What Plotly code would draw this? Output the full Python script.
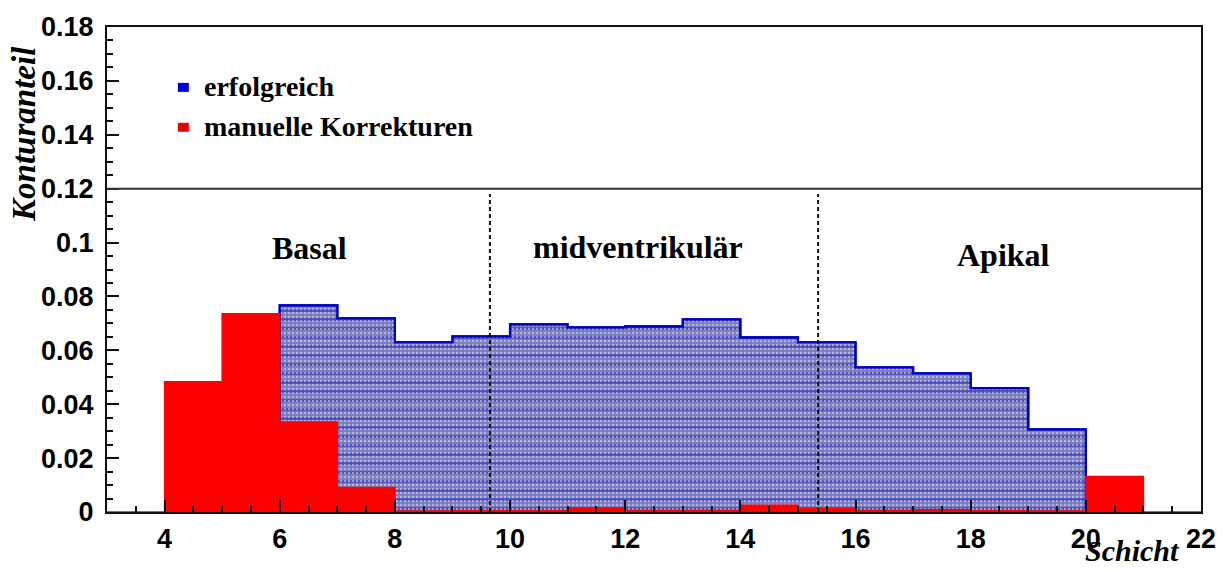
import plotly.graph_objects as go

# ---------------- data ----------------
blue_edges = [6, 7, 8, 9, 10, 11, 12, 13, 14, 15, 16, 17, 18, 19, 20]
blue_values = [0.0767, 0.0719, 0.0630, 0.0652, 0.0696, 0.0685, 0.0689,
               0.0715, 0.0648, 0.0630, 0.0537, 0.0515, 0.0460, 0.0307]

red_edges = [3, 4, 5, 6, 7, 8, 9, 10, 11, 12, 13, 14, 15, 16, 17, 18, 19, 20, 21, 22]
red_values = [0.0, 0.0483, 0.0736, 0.0334, 0.0091, 0.0004, 0.0005, 0.0005,
              0.0015, 0.0006, 0.0006, 0.0025, 0.0013, 0.0006, 0.0008, 0.0005,
              0.0004, 0.0132, 0.0]

region_bounds = [9.65, 15.35]
region_labels = ["Basal", "midventrikulär", "Apikal"]
region_label_x = [6.52, 12.22, 18.57]
region_label_y = [0.098, 0.0985, 0.0955]

legend_labels = ["erfolgreich", "manuelle Korrekturen"]
legend_colors = ["#0000e0", "#ee0000"]

y_tickvals = [0, 0.02, 0.04, 0.06, 0.08, 0.1, 0.12, 0.14, 0.16, 0.18]
y_ticktext = ["0", "0.02", "0.04", "0.06", "0.08", "0.1", "0.12", "0.14", "0.16", "0.18"]
x_tickvals = [4, 6, 8, 10, 12, 14, 16, 18, 20, 22]


def step_path(edges, values):
    xs = [edges[0]] + list(edges[:-1]) + [edges[-1], edges[-1]]
    ys = [0] + list(values) + [values[-1], 0]
    return xs, ys


SERIF = "Liberation Serif, Times New Roman, serif"
SANS = "Liberation Sans, Arial, sans-serif"

fig = go.Figure()

bx, by = step_path(blue_edges, blue_values)
fig.add_trace(go.Scatter(
    x=bx, y=by, mode="lines", line_shape="hv",
    line=dict(color="#0000c0", width=2.2),
    fill="tozeroy", fillcolor="#7a7cbe",
    fillpattern=dict(shape="-", fgcolor="#1818b0", bgcolor="#7a7cbe",
                     size=9, solidity=0.3),
    hoverinfo="skip", showlegend=False,
))
fig.add_trace(go.Scatter(
    x=bx, y=by, mode="lines", line_shape="hv",
    line=dict(color="#0000c0", width=2.2),
    fill="tozeroy", fillcolor="rgba(0,0,0,0)",
    fillpattern=dict(shape=".", fgcolor="rgba(255,255,255,0.85)",
                     bgcolor="rgba(0,0,0,0)", size=4, solidity=0.3),
    hoverinfo="skip", showlegend=False,
))

rx, ry = step_path(red_edges, red_values)
fig.add_trace(go.Scatter(
    x=rx, y=ry, mode="lines", line_shape="hv",
    line=dict(color="#ff0000", width=1.5),
    fill="tozeroy", fillcolor="#ff0000",
    hoverinfo="skip", showlegend=False,
))

# horizontal separator at 0.12 (legend box edge)
fig.add_shape(type="line", xref="x", yref="y", x0=3, x1=22, y0=0.12, y1=0.12,
              line=dict(color="#333333", width=2))

# region boundaries
for xb in region_bounds:
    fig.add_shape(type="line", xref="x", yref="y", x0=xb, x1=xb, y0=0, y1=0.118,
                  line=dict(color="#111111", width=2, dash="4px,3px"))

for lbl, lx, ly in zip(region_labels, region_label_x, region_label_y):
    fig.add_annotation(x=lx, y=ly, xref="x", yref="y", text=lbl, showarrow=False,
                       font=dict(family=SERIF, size=32, color="black", weight="bold"))

# legend
legend_y_px = [86, 126]
for i, (lbl, col) in enumerate(zip(legend_labels, legend_colors)):
    ypx = legend_y_px[i]
    yp = (512 - ypx) / 486
    fig.add_shape(type="rect", xref="paper", yref="paper",
                  x0=(178 - 107) / 1096, x1=(189 - 107) / 1096,
                  y0=yp - 5 / 486, y1=yp + 4 / 486,
                  fillcolor=col, line=dict(width=0))
    fig.add_annotation(x=(202 - 107) / 1096, y=yp, xref="paper", yref="paper",
                       text=lbl, showarrow=False, xanchor="left", yanchor="middle",
                       font=dict(family=SERIF, size=28, color="black", weight="bold"))

# axis titles
fig.add_annotation(x=(24 - 107) / 1096, y=(512 - 133) / 486, xref="paper", yref="paper",
                   text="Konturanteil", textangle=-90, showarrow=False,
                   xanchor="center", yanchor="middle",
                   font=dict(family=SERIF, size=33, color="black", weight="bold",
                             style="italic"))
fig.add_annotation(x=(1134 - 107) / 1096, y=(512 - 551) / 486, xref="paper", yref="paper",
                   text="Schicht", showarrow=False, xanchor="center", yanchor="middle",
                   font=dict(family=SERIF, size=30, color="black", weight="bold",
                             style="italic"))

fig.update_layout(
    width=1228, height=572,
    margin=dict(l=107, r=25, t=26, b=60),
    paper_bgcolor="white", plot_bgcolor="white",
    showlegend=False,
)
fig.update_xaxes(
    range=[3, 22], showgrid=False, zeroline=False,
    showline=True, linecolor="#111111", linewidth=2, mirror=True,
    tickmode="array", tickvals=x_tickvals, ticktext=[str(v) for v in x_tickvals],
    ticks="inside", ticklen=12, tickwidth=2, tickcolor="#111111",
    minor=dict(dtick=0.5, ticks="inside", ticklen=6, tickwidth=2, tickcolor="#111111"),
    tickfont=dict(family=SANS, size=27, color="black", weight="bold"),
    ticklabelstandoff=2,
)
fig.update_yaxes(
    range=[0, 0.18], showgrid=False, zeroline=False,
    showline=True, linecolor="#111111", linewidth=2, mirror=True,
    tickmode="array", tickvals=y_tickvals, ticktext=y_ticktext,
    ticks="inside", ticklen=12, tickwidth=2, tickcolor="#111111",
    minor=dict(dtick=0.005, ticks="inside", ticklen=6, tickwidth=2, tickcolor="#111111"),
    tickfont=dict(family=SANS, size=27, color="black", weight="bold"),
    ticklabelstandoff=6,
)

fig.write_html("out.html", config={"displayModeBar": False},
               post_script="document.body.style.margin='0px';document.body.style.overflow='hidden';")
